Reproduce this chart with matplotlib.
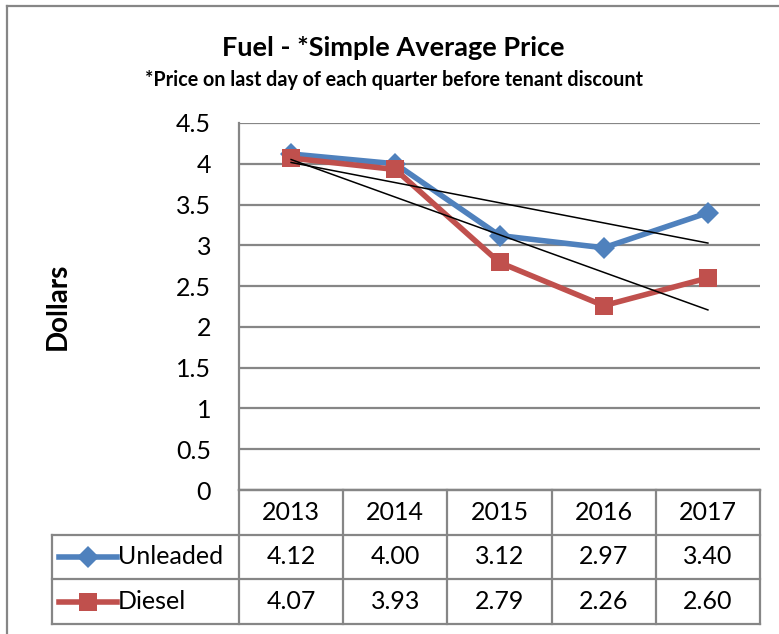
import matplotlib
matplotlib.use("Agg")
import matplotlib.pyplot as plt
import numpy as np
from matplotlib.transforms import blended_transform_factory

years = ["2013", "2014", "2015", "2016", "2017"]
unleaded = [4.12, 4.00, 3.12, 2.97, 3.40]
diesel = [4.07, 3.93, 2.79, 2.26, 2.60]
series_names = ["Unleaded", "Diesel"]
yticks = [0, 0.5, 1, 1.5, 2, 2.5, 3, 3.5, 4, 4.5]

BLUE = "#4F81BD"
RED = "#C0504D"
GRID = "#868686"
FONT = "Lato"

plt.rcParams["font.family"] = [FONT, "DejaVu Sans"]

fig = plt.figure(figsize=(7.79, 6.34), dpi=100)
ax = fig.add_axes([239 / 779, 1 - 490 / 634, 521 / 779, 367 / 634])

x = np.arange(len(years))
series = [unleaded, diesel]
styles = [(BLUE, "D", 11), (RED, "s", 12.5)]

for vals, (color, marker, ms) in zip(series, styles):
    ax.plot(x, vals, color=color, lw=4, marker=marker, ms=ms,
            markeredgewidth=0, zorder=3)

# linear trendlines, as Excel draws them
for vals in series:
    k, b = np.polyfit(x + 1, vals, 1)
    ax.plot(x, k * (x + 1) + b, color="black", lw=1.1, zorder=4)

ax.set_xlim(-0.5, len(years) - 0.5)
ax.set_ylim(0, 4.5)
ax.set_yticks(yticks)
ax.set_yticklabels([f"{t:g}" for t in yticks], fontsize=18)
ax.tick_params(axis="y", length=0, pad=20)
ax.set_xticks([])
ax.grid(axis="y", color=GRID, lw=1.6)
ax.set_axisbelow(True)
for side in ["top", "right"]:
    ax.spines[side].set_visible(False)
for side in ["left", "bottom"]:
    ax.spines[side].set_color(GRID)
    ax.spines[side].set_linewidth(1.6)

fig.text(58 / 779, 1 - 306 / 634, "Dollars", rotation=90, ha="center",
         va="center", fontsize=20, fontweight="bold")

fig.text(393 / 779, 1 - 48 / 634, "Fuel - *Simple Average Price",
         ha="center", va="center", fontsize=19.5, fontweight="bold")
fig.text(394 / 779, 1 - 80 / 634,
         "*Price on last day of each quarter before tenant discount",
         ha="center", va="center", fontsize=14.2, fontweight="bold")

# data table under the plot
tr = blended_transform_factory(ax.transData, ax.transAxes)
h = 367
rows_y = [0, -45 / h, -89 / h, -134 / h]
key_left = -0.5 + (52 - 239) / 521 * 5
lkw = dict(color=GRID, lw=1.6, transform=tr, clip_on=False)

ax.plot([-0.5, 4.5], [rows_y[0]] * 2, **lkw)
for yy in rows_y[1:]:
    ax.plot([key_left, 4.5], [yy, yy], **lkw)
for xx in np.arange(-0.5, len(years), 1.0):
    ax.plot([xx, xx], [rows_y[0], rows_y[-1]], **lkw)
ax.plot([key_left, key_left], [rows_y[1], rows_y[-1]], **lkw)

for i, yr in enumerate(years):
    ax.text(i, (rows_y[0] + rows_y[1]) / 2, yr, transform=tr,
            ha="center", va="center", fontsize=18)

key_w = (117 - 59) / 521 * 5
for r, (name, vals, (color, marker, ms)) in enumerate(zip(series_names, series, styles)):
    yc = (rows_y[r + 1] + rows_y[r + 2]) / 2
    x0 = key_left + (59 - 52) / 521 * 5
    ax.plot([x0, x0 + key_w], [yc, yc], color=color, lw=4, transform=tr,
            clip_on=False)
    ax.plot([x0 + key_w / 2], [yc], color=color, marker=marker, ms=ms,
            markeredgewidth=0, transform=tr, clip_on=False)
    ax.text(x0 + key_w + 0.01, yc, name, transform=tr, ha="left",
            va="center", fontsize=18)
    for i, v in enumerate(vals):
        ax.text(i, yc, f"{v:.2f}", transform=tr, ha="center", va="center",
                fontsize=18)

# chart area border (left and top visible)
fig.add_artist(plt.Line2D([7 / 779, 7 / 779], [0, 1 - 6 / 634], color=GRID,
                          lw=1.6, transform=fig.transFigure))
fig.add_artist(plt.Line2D([7 / 779, 1], [1 - 6 / 634] * 2, color=GRID,
                          lw=1.6, transform=fig.transFigure))

fig.savefig("out.png", dpi=100)
